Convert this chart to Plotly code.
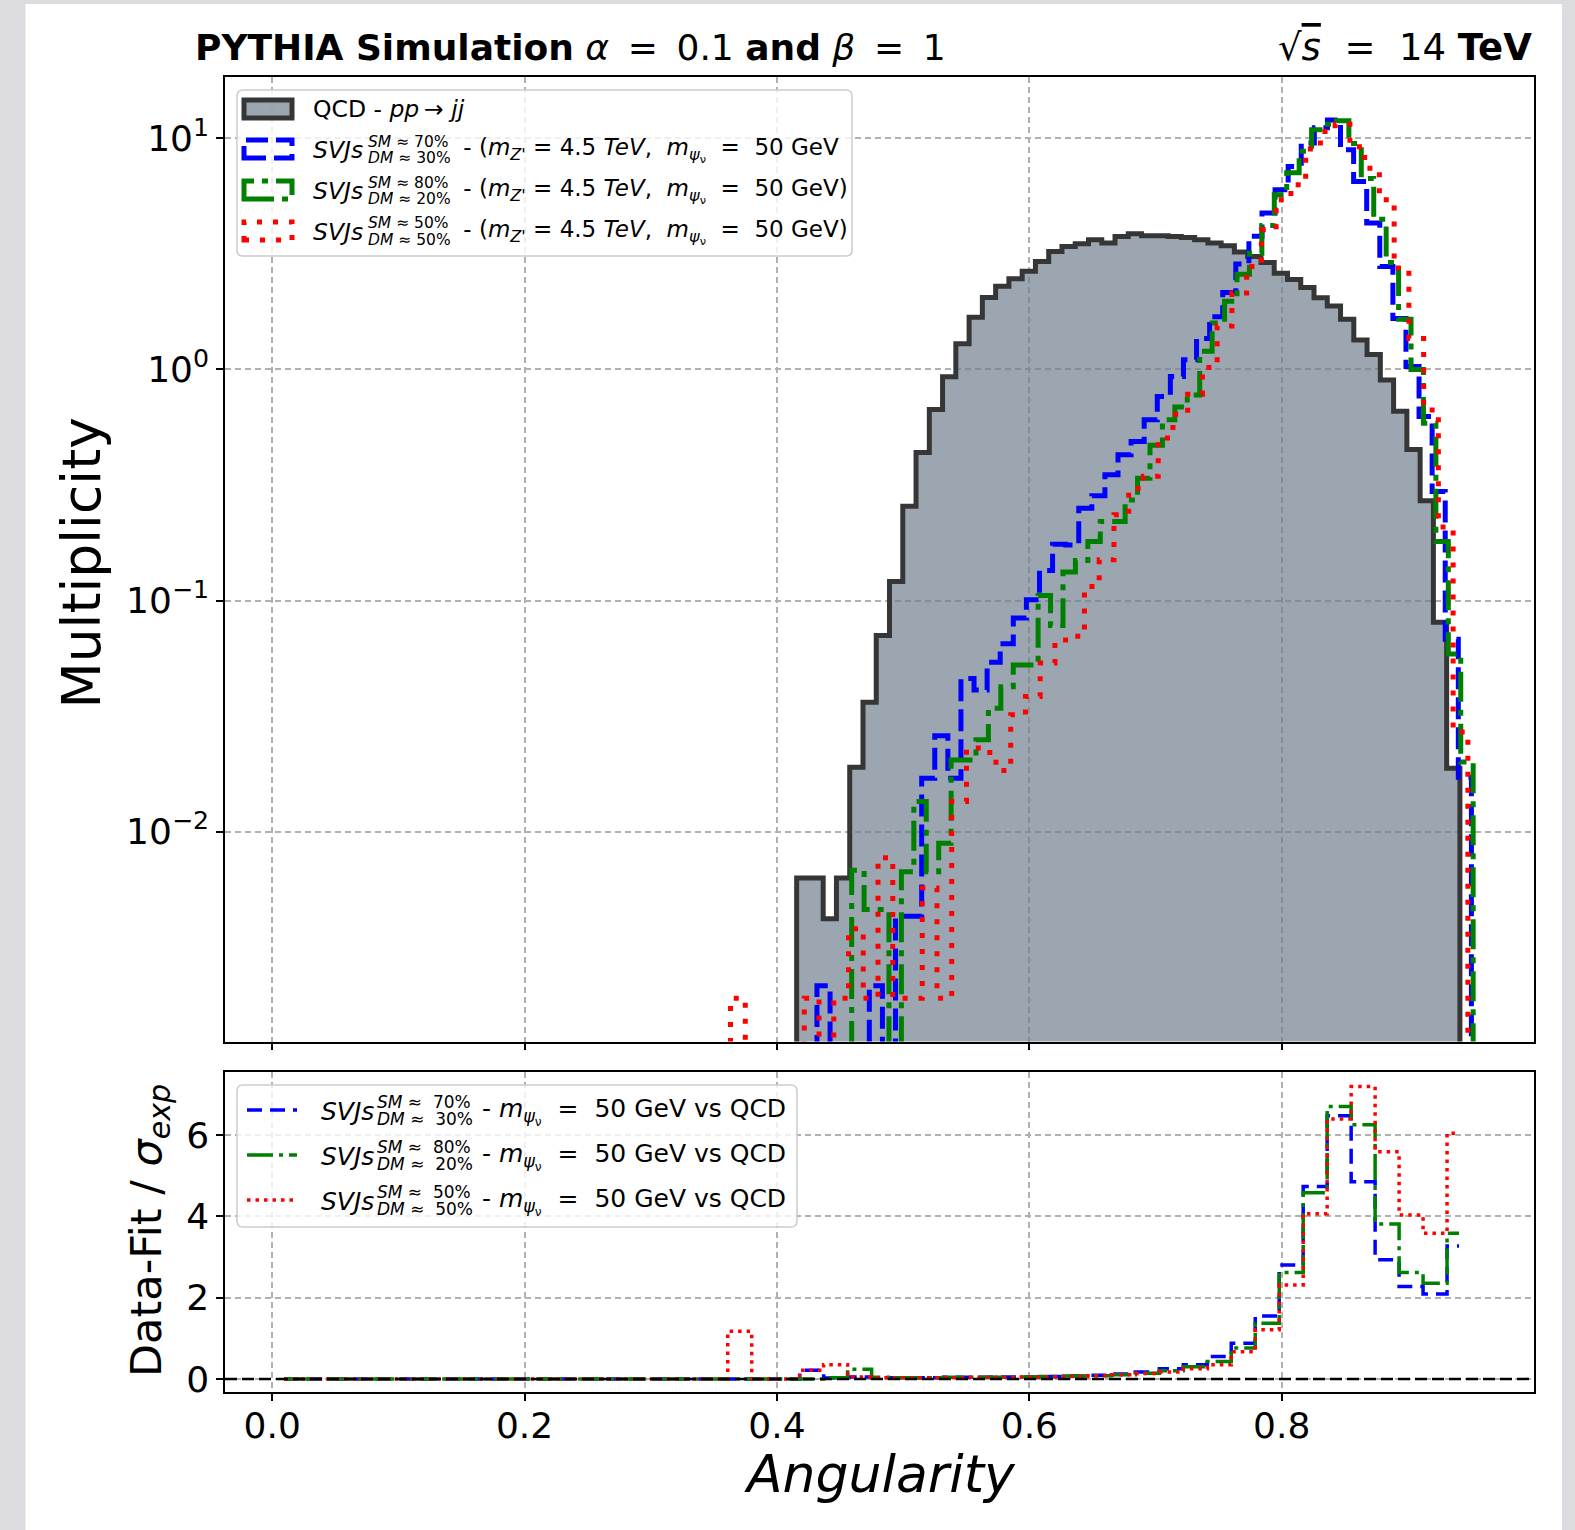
import numpy as np
import plotly.graph_objects as go

# ---------------------------------------------------------------- data
ANG_TICKS = [0.0, 0.2, 0.4, 0.6, 0.8]
ANG_TICK_TEXT = ["0.0", "0.2", "0.4", "0.6", "0.8"]
MULT_TICKS = [0.01, 0.1, 1, 10]
MULT_TICK_TEXT = ["10<sup>−2</sup>", "10<sup>−1</sup>", "10<sup>0</sup>", "10<sup>1</sup>"]
SIG_TICKS = [0, 2, 4, 6]
SIG_TICK_TEXT = ["0", "2", "4", "6"]

# upper panel: 50-bin histograms, each over its own angularity range
QCD_RANGE = [0.4156, 0.9412]
QCD_MULT = [0.0063, 0.0063, 0.0042, 0.0063, 0.0190, 0.0363, 0.0705, 0.121, 0.256, 0.437,
            0.670, 0.93, 1.29, 1.68, 2.05, 2.29, 2.47, 2.66, 2.93, 3.24,
            3.40, 3.50, 3.64, 3.52, 3.76, 3.86, 3.79, 3.79, 3.76, 3.72,
            3.64, 3.52, 3.43, 3.22, 3.08, 2.90, 2.61, 2.45, 2.26, 2.04,
            1.88, 1.65, 1.34, 1.16, 0.90, 0.66, 0.45, 0.27, 0.0805, 0.0188]

SVJ70_RANGE = [0.4317, 0.9503]
SVJ70_MULT = [0.00215, 0, 0, 0, 0.00215, 0, 0.0043, 0.0043, 0.0170, 0.026,
              0.017, 0.046, 0.041, 0.054, 0.065, 0.084, 0.1007, 0.135, 0.175, 0.174,
              0.251, 0.284, 0.35, 0.427, 0.488, 0.605, 0.764, 0.931, 1.10, 1.36,
              1.69, 2.15, 2.86, 3.77, 4.75, 5.99, 7.55, 9.55, 11.1, 12.0,
              8.93, 6.50, 4.30, 2.79, 1.66, 1.03, 0.625, 0.296, 0.068, 0.0172]

SVJ80_RANGE = [0.4592, 0.9517]
SVJ80_MULT = [0.0068, 0.0046, 0.0046, 0, 0.0067, 0.0135, 0.0067, 0.0089, 0.0204, 0.0204,
              0.025, 0.0342, 0.0424, 0.0526, 0.0526, 0.105, 0.078, 0.133, 0.149, 0.18,
              0.22, 0.22, 0.272, 0.338, 0.47, 0.605, 0.687, 0.776, 1.20, 1.59,
              1.97, 2.58, 3.18, 4.2, 5.7, 7.1, 8.8, 10.9, 11.5, 11.9,
              9.5, 6.7, 4.46, 2.9, 1.65, 1.0, 0.585, 0.18, 0.0587, 0.02]

SVJ50_RANGE = [0.3632, 0.9475]
SVJ50_MULT = [0.0019, 0, 0, 0, 0, 0.0019, 0, 0.0019, 0.0038, 0.0019,
              0.0077, 0.0019, 0.0019, 0.0057, 0.0019, 0.0135, 0.0230, 0.022, 0.0184, 0.032,
              0.0384, 0.0536, 0.0674, 0.070, 0.115, 0.150, 0.235, 0.305, 0.345, 0.505,
              0.640, 0.78, 1.02, 1.54, 2.14, 2.79, 4.02, 5.42, 6.3, 9.0,
              10.7, 11.5, 9.2, 7.43, 5.42, 2.75, 1.36, 0.668, 0.208, 0.027]

# lower panel: significance per bin (50 bins over 0 .. 0.95)
SIG_RANGE = [0.0, 0.95]
SIG70 = [0] * 19 + [0, 0, 0, 0.21, 0.02, 0.05, 0.03, 0.03, 0.03, 0.04,
                    0.04, 0.05, 0.05, 0.06, 0.07, 0.09, 0.12, 0.17, 0.25, 0.35,
                    0.55, 0.88, 1.55, 2.80, 4.73, 6.47, 4.85, 2.93, 2.27, 2.09, 3.27]
SIG80 = [0] * 19 + [0, 0, 0, 0, 0.03, 0.24, 0.04, 0.03, 0.03, 0.04,
                    0.04, 0.04, 0.05, 0.06, 0.07, 0.08, 0.10, 0.14, 0.20, 0.30,
                    0.43, 0.76, 1.37, 2.62, 4.58, 6.70, 6.25, 3.81, 2.62, 2.35, 3.58]
SIG50 = [0] * 19 + [1.17, 0, 0, 0.21, 0.35, 0.05, 0.03, 0.03, 0.03, 0.03,
                    0.04, 0.04, 0.05, 0.05, 0.06, 0.08, 0.10, 0.13, 0.17, 0.25,
                    0.35, 0.67, 1.21, 2.31, 4.06, 6.39, 7.19, 5.59, 4.03, 3.58, 6.04]

# ---------------------------------------------------------------- layout constants
W, H = 1575, 1530
ML, MR, MT, MB = 225, 41, 77, 138
PW, PH = W - ML - MR, H - MT - MB
FONT = "DejaVu Sans"

BLUE, GREEN, RED = "#0000ff", "#008000", "#ff0000"
QCD_FILL = "rgba(112,128,144,0.7)"
QCD_EDGE = "#363636"
GRID = "#b0b0b0"

UP_DASH = {"b": "22px,8px", "g": "30px,8px,6px,8px", "r": "5px,11px"}
LO_DASH = {"b": "15px,8px", "g": "26px,6px,4px,6px", "r": "3.5px,5px"}


def fx(px):
    return (px - ML) / PW


def fy(py):
    return (H - MB - py) / PH


def outline(rng, vals, floor=1e-7):
    e = np.linspace(rng[0], rng[1], len(vals) + 1)
    v = np.asarray(vals, float)
    v = np.where(v > 0, v, floor)
    x = np.concatenate([[e[0]], e[:-1], [e[-1]]])
    y = np.concatenate([[floor], v, [floor]])
    return x, y


def centers(rng, n):
    e = np.linspace(rng[0], rng[1], n + 1)
    return 0.5 * (e[:-1] + e[1:])


fig = go.Figure()

# ---------------- upper panel
x, y = outline(QCD_RANGE, QCD_MULT)
fig.add_trace(go.Scatter(x=x, y=y, mode="lines", line_shape="hv", fill="toself",
                         fillcolor=QCD_FILL, line=dict(color=QCD_EDGE, width=5),
                         xaxis="x", yaxis="y", showlegend=False, hoverinfo="skip"))
for rng, vals, col, d in [(SVJ70_RANGE, SVJ70_MULT, BLUE, UP_DASH["b"]),
                          (SVJ80_RANGE, SVJ80_MULT, GREEN, UP_DASH["g"]),
                          (SVJ50_RANGE, SVJ50_MULT, RED, UP_DASH["r"])]:
    x, y = outline(rng, vals)
    fig.add_trace(go.Scatter(x=x, y=y, mode="lines", line_shape="hv",
                             line=dict(color=col, width=5, dash=d),
                             xaxis="x", yaxis="y", showlegend=False, hoverinfo="skip"))

# ---------------- lower panel
for vals, col, d in [(SIG70, BLUE, LO_DASH["b"]), (SIG80, GREEN, LO_DASH["g"]),
                     (SIG50, RED, LO_DASH["r"])]:
    fig.add_trace(go.Scatter(x=centers(SIG_RANGE, len(vals)), y=vals, mode="lines",
                             line_shape="hvh", line=dict(color=col, width=3.5, dash=d),
                             xaxis="x2", yaxis="y2", showlegend=False, hoverinfo="skip"))

XR = [-0.0374, 0.9999]
axis_common = dict(showline=True, linecolor="black", linewidth=1.5, mirror=True,
                   ticks="outside", ticklen=7, tickwidth=1.5, tickcolor="black",
                   showgrid=True, gridcolor=GRID, gridwidth=1.5, griddash="6px,4px",
                   zeroline=False, tickfont=dict(family=FONT, size=36, color="black"))

fig.update_layout(
    width=W, height=H,
    margin=dict(l=ML, r=MR, t=MT, b=MB, autoexpand=False),
    paper_bgcolor="#dcdbe0", plot_bgcolor="white",
    font=dict(family=FONT, color="black"),
    xaxis=dict(domain=[0, 1], range=XR, anchor="y", tickvals=ANG_TICKS,
               showticklabels=False, **axis_common),
    yaxis=dict(domain=[fy(1041.6), 1], type="log", range=[-2.9087, 1.2654], anchor="x",
               tickvals=MULT_TICKS, ticktext=MULT_TICK_TEXT, **axis_common),
    xaxis2=dict(domain=[0, 1], range=XR, anchor="y2", matches="x", tickvals=ANG_TICKS,
                ticktext=ANG_TICK_TEXT, ticklabelstandoff=-6, **axis_common),
    yaxis2=dict(domain=[0, fy(1071.8)], range=[-0.322, 7.554], anchor="x2",
                tickvals=SIG_TICKS, ticktext=SIG_TICK_TEXT, **axis_common),
)

shapes = []
# white page inside the grey border
shapes.append(dict(type="rect", xref="paper", yref="paper", x0=fx(25.5), x1=fx(1562),
                   y0=fy(1535), y1=fy(4), fillcolor="white", line=dict(width=0), layer="below"))
# zero line of lower panel
shapes.append(dict(type="line", xref="x2 domain", yref="y2", x0=0, x1=1, y0=0, y1=0,
                   line=dict(color="black", width=2.5, dash="12px,5px"), layer="above"))


def rounded_box(x0, y0, x1, y1, r=6):
    rx, ry = r / PW, r / PH
    X0, X1, Y0, Y1 = fx(x0), fx(x1), fy(y1), fy(y0)
    p = (f"M {X0+rx},{Y0} L {X1-rx},{Y0} Q {X1},{Y0} {X1},{Y0+ry} "
         f"L {X1},{Y1-ry} Q {X1},{Y1} {X1-rx},{Y1} L {X0+rx},{Y1} "
         f"Q {X0},{Y1} {X0},{Y1-ry} L {X0},{Y0+ry} Q {X0},{Y0} {X0+rx},{Y0} Z")
    return dict(type="path", xref="paper", yref="paper", path=p,
                fillcolor="rgba(255,255,255,0.8)", line=dict(color="#cccccc", width=1.5),
                layer="above")


# upper legend
shapes.append(rounded_box(237, 90, 852, 256))
UP_ROWS = [109, 149, 190, 231]
shapes.append(dict(type="rect", xref="paper", yref="paper", x0=fx(244), x1=fx(292),
                   y0=fy(UP_ROWS[0] + 9), y1=fy(UP_ROWS[0] - 9), fillcolor=QCD_FILL,
                   line=dict(color=QCD_EDGE, width=5), layer="above"))
for row, col, d in zip(UP_ROWS[1:], [BLUE, GREEN, RED], [UP_DASH["b"], UP_DASH["g"], UP_DASH["r"]]):
    shapes.append(dict(type="rect", xref="paper", yref="paper", x0=fx(244), x1=fx(292),
                       y0=fy(row + 9), y1=fy(row - 9), fillcolor="rgba(0,0,0,0)",
                       line=dict(color=col, width=5, dash=d), layer="above"))
# lower legend
shapes.append(rounded_box(237, 1085, 797, 1227))
LO_ROWS = [1110, 1155, 1200]
for row, col, d in zip(LO_ROWS, [BLUE, GREEN, RED], [LO_DASH["b"], LO_DASH["g"], LO_DASH["r"]]):
    shapes.append(dict(type="line", xref="paper", yref="paper", x0=fx(247), x1=fx(297),
                       y0=fy(row), y1=fy(row), line=dict(color=col, width=3.5, dash=d),
                       layer="above"))
fig.update_layout(shapes=shapes)

ann = []


def text(px, py, s, size, anchor="left", angle=0, yanchor="middle"):
    ann.append(dict(xref="paper", yref="paper", x=fx(px), y=fy(py), text=s, showarrow=False,
                    xanchor=anchor, yanchor=yanchor, textangle=angle,
                    font=dict(family=FONT, size=size, color="black")))


NB = "\u00a0"
TS = "\u2009"
# titles
text(193, 47, f"<b>PYTHIA Simulation</b> <i>α</i>{TS} ={TS} 0.1 <b>and</b> <i>β</i>{TS} ={TS} 1", 36)
text(1534, 47, f"√<span style='text-decoration:overline'><i>s</i></span>{NB} ={NB} 14 <b>TeV</b>",
     37, anchor="right")
text(80.5, 563, "Multiplicity", 53.5, anchor="center", angle=-90)
text(149, 1231, "Data-Fit / <i>σ</i><sub><i>exp</i></sub>", 43, anchor="center", angle=-90)
text(879.5, 1474, "<i>Angularity</i>", 52, anchor="center")

# upper legend texts
text(311, UP_ROWS[0], "QCD - <i>pp</i>\u2009→ <i>jj</i>", 23.5)
fracs = [("70%", "30%"), ("80%", "20%"), ("50%", "50%")]
mz = f"<i>m</i><sub><i>Z'</i></sub> = 4.5 <i>TeV</i>, {NB}<i>m</i><sub><i>ψ</i><sub>ν</sub></sub>{NB} ={NB} 50 GeV"
tails = [f" - ({mz}", f" - ({mz})", f" - ({mz})"]
for row, (a, b), tail in zip(UP_ROWS[1:], fracs, tails):
    text(311, row + 1, "<i>SVJs</i>", 23.5)
    text(366, row - 7.5, f"<i>SM</i> ≈{NB}{a}", 15.5)
    text(366, row + 8.5, f"<i>DM</i> ≈{NB}{b}", 15.5)
    text(454, row + 1, tail, 23)

# lower legend texts
for row, (a, b) in zip(LO_ROWS, fracs):
    text(319, row + 1, "<i>SVJs</i>", 25)
    text(375, row - 8, f"<i>SM</i> ≈{NB}{NB}{a}", 17)
    text(375, row + 9, f"<i>DM</i> ≈{NB}{NB}{b}", 17)
    text(472, row + 1, f" - <i>m</i><sub><i>ψ</i><sub>ν</sub></sub>{NB} ={NB} 50 GeV vs QCD", 25)

fig.update_layout(annotations=ann)
fig.write_html("out.html", config={"displayModeBar": False},
               post_script="document.body.style.margin='0px';")
